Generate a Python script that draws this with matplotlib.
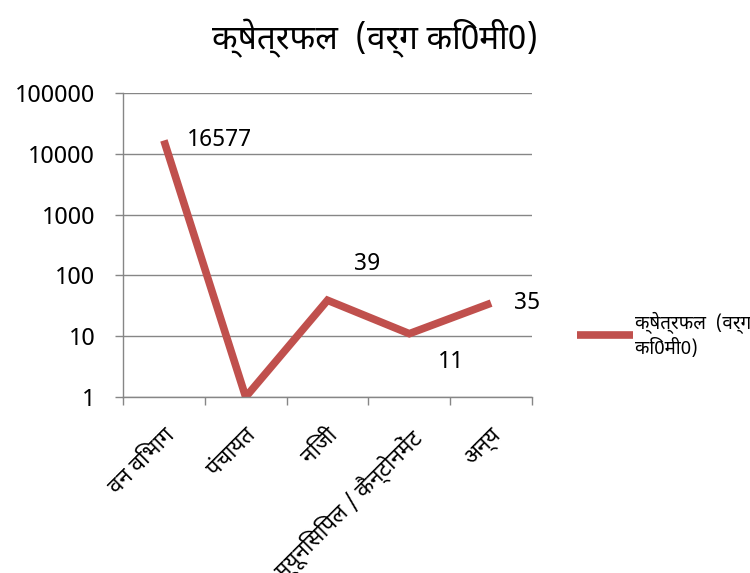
import matplotlib
matplotlib.use("Agg")
import matplotlib.pyplot as plt

plt.rcParams['font.family'] = ['Noto Sans Devanagari', 'DejaVu Sans']

# data
categories = ['वन विभाग', 'पंचायत', 'निजी', 'म्यूनिसिपल / कैन्टोनमेंट', 'अन्य']
area = [16577, 1, 39, 11, 35]
series_name = 'क्षेत्रफल  (वर्ग कि0मी0)'
legend_label = 'क्षेत्रफल  (वर्ग\nकि0मी0)'
yticks = [1, 10, 100, 1000, 10000, 100000]

# which points get a label, and where (pixel offsets)
label_offsets = {0: (23, 0, 'left'), 2: (40, 36, 'center'), 3: (42, -28, 'center'), 4: (23, 0, 'left')}

red = '#C0504D'
grey = '#868686'

fig = plt.figure(figsize=(7.5, 5.73), dpi=100)
ax = fig.add_axes([123/750, 1-397/573, (532-123)/750, (397-93)/573])

x = list(range(len(categories)))
ax.plot(x, area, color=red, lw=5.5, solid_capstyle='butt', solid_joinstyle='miter', label=legend_label)

ax.set_yscale('log')
ax.set_ylim(1, 100000)
ax.set_xlim(-0.5, len(categories) - 0.5)
ax.set_yticks(yticks)
ax.set_yticklabels([str(v) for v in yticks])
ax.minorticks_off()
ax.yaxis.grid(True, color=grey, lw=1)
ax.set_axisbelow(True)

ax.set_xticks(x)
ax.set_xticklabels(categories, rotation=45, ha='right', va='top', rotation_mode='anchor')
ax.set_xticks([i - 0.5 for i in range(len(categories) + 1)], minor=True)
ax.tick_params(axis='x', which='major', length=0, pad=20, labelsize=16)
ax.tick_params(axis='x', which='minor', length=6, color=grey, width=1)
ax.tick_params(axis='y', length=6, color=grey, width=1, labelsize=17.5, pad=14)

for s in ['top', 'right']:
    ax.spines[s].set_visible(False)
for s in ['left', 'bottom']:
    ax.spines[s].set_color(grey)
    ax.spines[s].set_linewidth(1)

for i, (dx, dy, ha) in label_offsets.items():
    ax.annotate(str(area[i]), (x[i], area[i]), xytext=(dx, dy), textcoords='offset pixels',
                ha=ha, va='center', fontsize=17)

fig.text(0.5, 1-38/573, series_name, ha='center', va='center', fontsize=24)

fig.legend(loc='center left', bbox_to_anchor=(560/750, 1-335/573), frameon=False,
           fontsize=13.5, handlelength=3.0, handletextpad=0.1)

fig.savefig('out.png', dpi=100)
